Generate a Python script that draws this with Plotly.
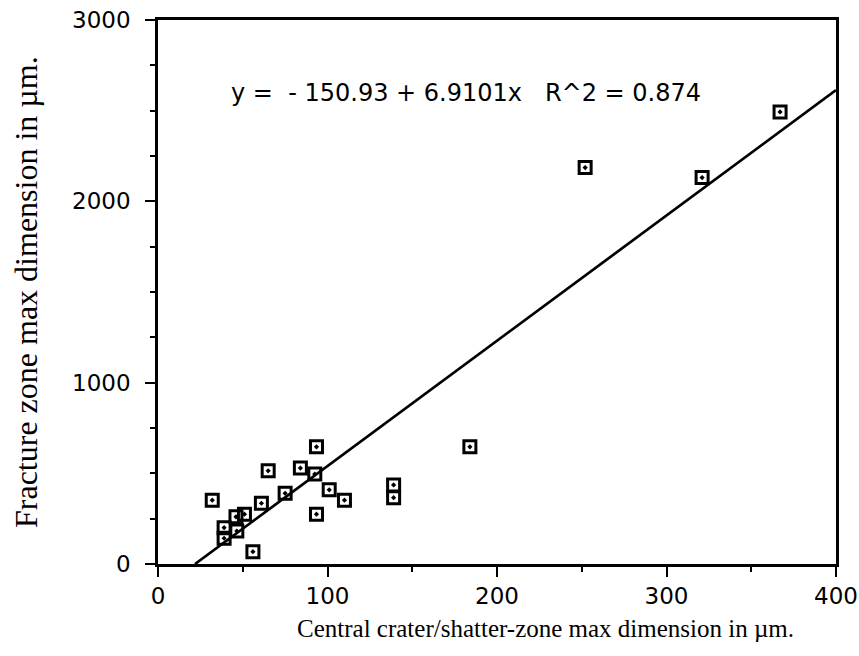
import plotly.graph_objects as go

# Data
crater_um = [32, 39, 39, 46, 46.5, 51, 56, 61, 65, 75, 84, 93.5, 92.5, 93.5, 101, 110, 139, 139, 184, 252, 321, 367]
fracture_um = [352, 200, 142, 260, 182, 275, 68, 335, 514, 390, 529, 646, 496, 275, 409, 352, 436, 366, 646, 2186, 2131, 2493]

intercept = -150.93
slope = 6.9101
r_squared = 0.874
x_max = 400

x_title = "Central crater/shatter-zone max dimension in µm."
y_title = "Fracture zone max dimension in µm."

fit_x = [-intercept / slope, x_max]
fit_y = [intercept + slope * v for v in fit_x]

tick_font = dict(family="DejaVu Sans, sans-serif", size=23, color="black")
ann_font = dict(family="DejaVu Sans, sans-serif", size=24, color="black")
x_title_font = dict(family="Liberation Serif, Times New Roman, serif", size=25, color="black")
y_title_font = dict(family="Liberation Serif, Times New Roman, serif", size=32, color="black")

fig = go.Figure()
fig.add_trace(go.Scatter(x=fit_x, y=fit_y, mode="lines",
                         line=dict(color="black", width=2.7), showlegend=False, hoverinfo="skip"))
fig.add_trace(go.Scatter(x=crater_um, y=fracture_um, mode="markers",
                         marker=dict(symbol="square-open-dot", size=12, color="black",
                                     line=dict(color="black", width=3)),
                         showlegend=False))

fig.add_annotation(x=42, y=2597, xref="x", yref="y", xanchor="left", yanchor="middle",
                   text=f"y =  - {abs(intercept):.2f} + {slope:.4f}x   R^2 = {r_squared:.3f}".replace(" ", "&nbsp;"),
                   showarrow=False, font=ann_font)

fig.add_annotation(x=0.5, y=0, xref="paper", yref="paper", xanchor="center", yanchor="middle",
                   xshift=48, yshift=-64, text=x_title, showarrow=False, font=x_title_font)
fig.add_annotation(x=0, y=0.5, xref="paper", yref="paper", xanchor="center", yanchor="middle",
                   xshift=-132, textangle=-90, text=y_title, showarrow=False, font=y_title_font)

axis_common = dict(showgrid=False, zeroline=False, showline=True, linecolor="black", linewidth=2.5,
                   mirror=True, ticks="outside", ticklen=10, tickwidth=2, tickcolor="black",
                   tickfont=tick_font, automargin=False, ticklabeloverflow="allow")

fig.update_xaxes(range=[0, 400], tickvals=[0, 100, 200, 300, 400],
                 minor=dict(dtick=50, ticks="outside", ticklen=5, tickwidth=2, tickcolor="black"),
                 **axis_common)
fig.update_yaxes(range=[0, 3000], tickvals=[0, 1000, 2000, 3000], ticklabelstandoff=10,
                 minor=dict(dtick=250, ticks="outside", ticklen=5, tickwidth=2, tickcolor="black"),
                 **axis_common)

fig.update_layout(width=859, height=656, margin=dict(l=158, r=23, t=20, b=92),
                  plot_bgcolor="white", paper_bgcolor="white")

# remove the default page margin so the figure fills the 859x656 window exactly
fig.write_html("out.html", config={"displayModeBar": False},
               post_script="document.body.style.margin='0';document.documentElement.style.overflow='hidden';")
